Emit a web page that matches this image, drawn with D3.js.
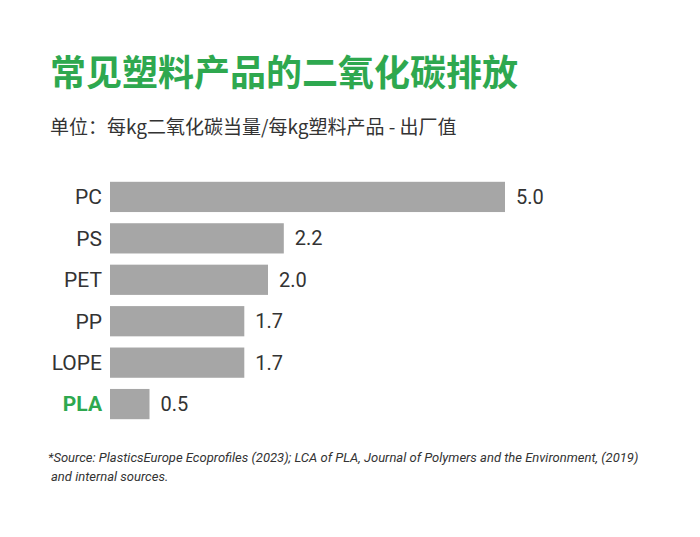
<!DOCTYPE html>
<html><head><meta charset="utf-8">
<script src="https://cdn.jsdelivr.net/npm/d3@7"></script>
<style>body{margin:0;background:#fff}</style></head>
<body><svg id="c" width="700" height="537"></svg>
<script>
const categories=["PC","PS","PET","PP","LOPE","PLA"];
const values=[5.0,2.2,2.0,1.7,1.7,0.5];
const labels=["5.0","2.2","2.0","1.7","1.7","0.5"];
const svg=d3.select("#c");
const F="'Noto Sans CJK SC','Noto Sans',sans-serif";
svg.append("text").attr("x",50).attr("y",86).attr("fill","#2ea84f").attr("font-family",F)
 .attr("font-weight","bold").attr("font-size",36).text("常见塑料产品的二氧化碳排放");
svg.append("text").attr("x",50).attr("y",134).attr("fill","#333").attr("font-family",F)
 .attr("font-size",19).text("单位：每kg二氧化碳当量/每kg塑料产品 - 出厂值");
const x=d3.scaleLinear().domain([0,5]).range([110,505]);
const y=d3.scaleBand().domain(categories).range([176,425]).paddingInner(0.27).paddingOuter(0.14);
const g=svg.append("g");
g.selectAll("rect").data(categories).join("rect").attr("x",x(0)).attr("y",d=>y(d))
 .attr("width",(d,i)=>x(values[i])-x(0)).attr("height",y.bandwidth()).attr("fill","#a6a6a6");
g.selectAll(".v").data(categories).join("text").attr("x",(d,i)=>x(values[i])+11)
 .attr("y",d=>y(d)+y.bandwidth()/2).attr("dy","0.35em").attr("font-family","Roboto,sans-serif")
 .attr("font-size",20).attr("fill","#333").text((d,i)=>labels[i]);
g.selectAll(".c").data(categories).join("text").attr("x",102).attr("text-anchor","end")
 .attr("y",d=>y(d)+y.bandwidth()/2).attr("dy","0.35em").attr("font-family","Roboto,sans-serif")
 .attr("font-size",21).attr("fill",d=>d==="PLA"?"#2ea84f":"#333").attr("font-weight",d=>d==="PLA"?"bold":"normal").text(d=>d);
const ft=svg.append("text").attr("font-family","Roboto,sans-serif").attr("font-style","italic").attr("font-size",13).attr("fill","#333");
ft.append("tspan").attr("x",48).attr("y",462).text("*Source: PlasticsEurope Ecoprofiles (2023); LCA of PLA, Journal of Polymers and the Environment, (2019)");
ft.append("tspan").attr("x",51).attr("y",481).text("and internal sources.");
</script></body></html>
